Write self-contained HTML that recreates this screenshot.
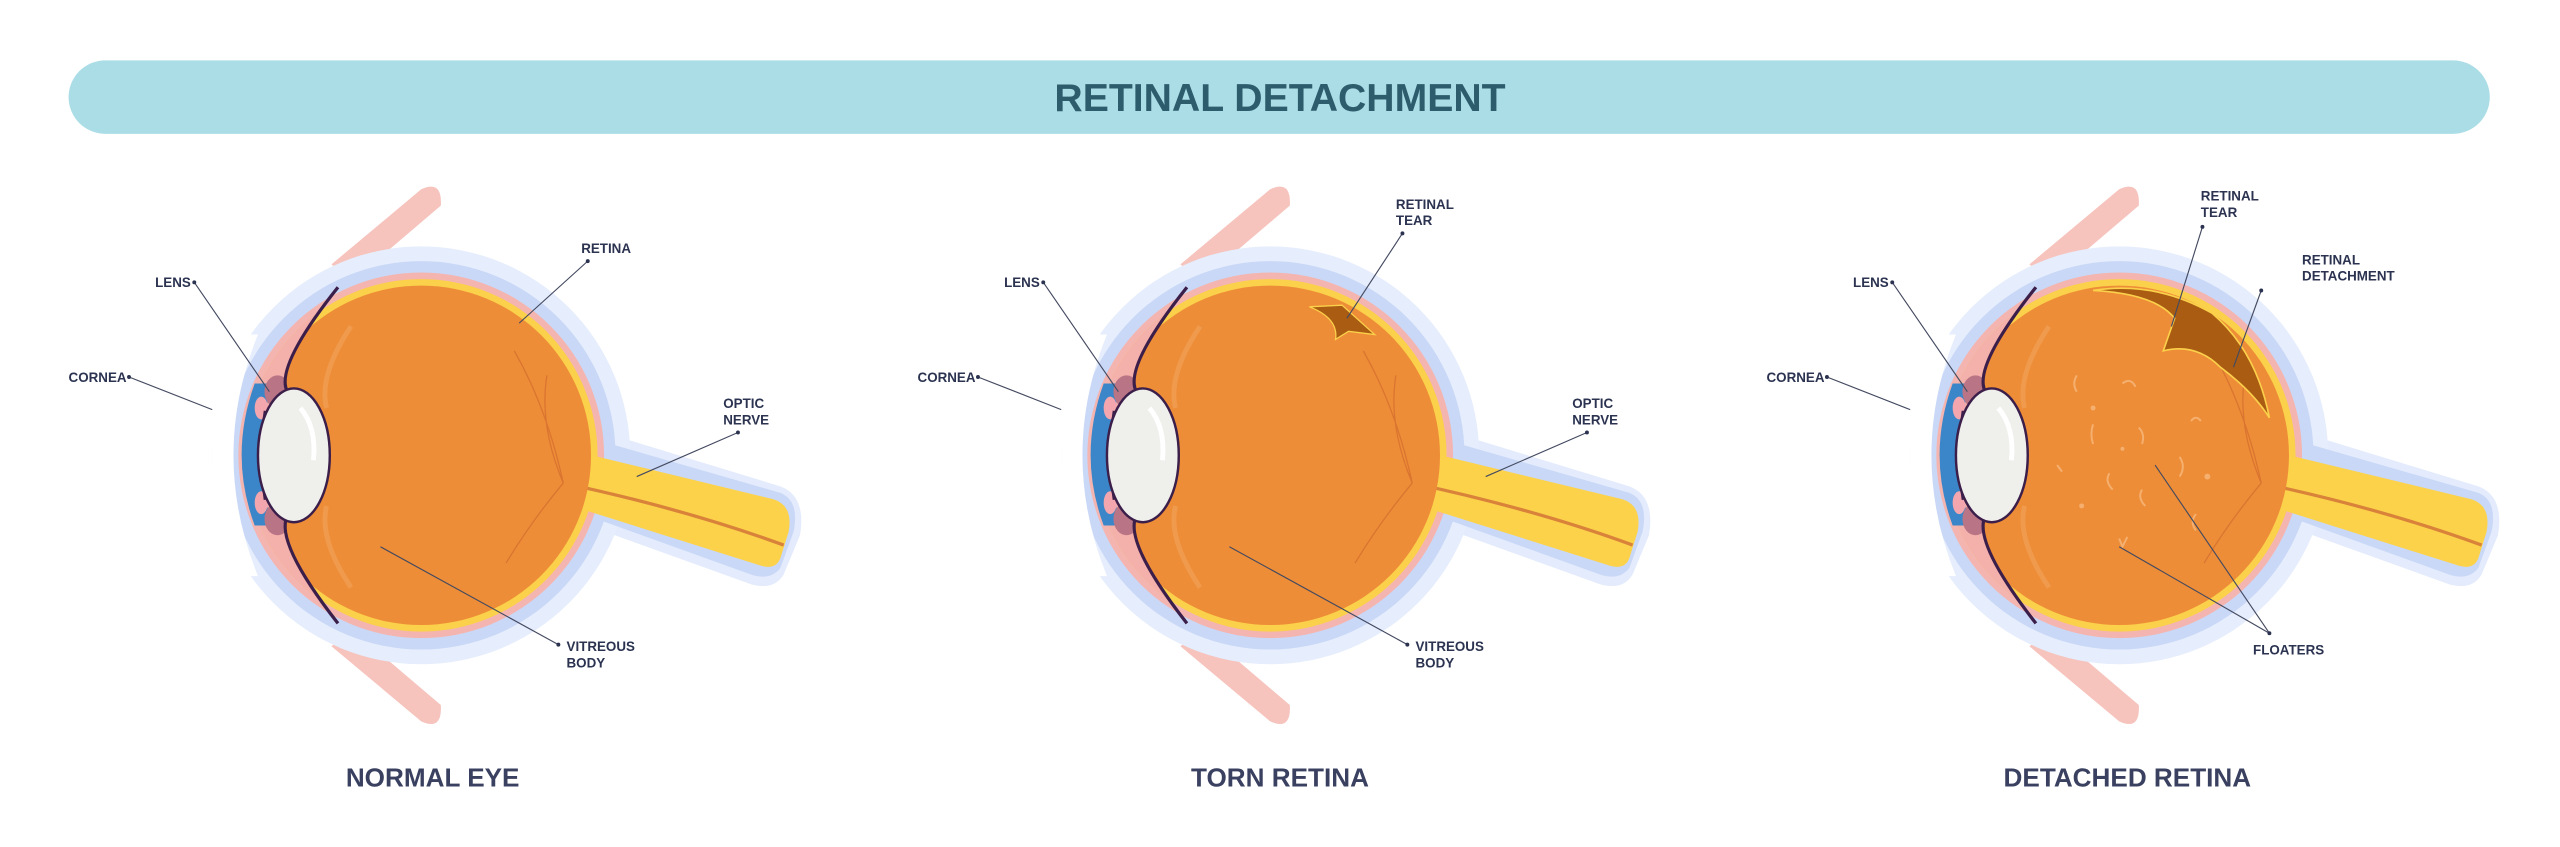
<!DOCTYPE html>
<html><head><meta charset="utf-8"><style>
html,body{margin:0;padding:0;background:#fff;}
svg{display:block;}
.lbl{font-family:"Liberation Sans",sans-serif;font-weight:bold;font-size:8.2px;fill:#2b3350;}
.cap{font-family:"Liberation Sans",sans-serif;font-weight:bold;font-size:16px;fill:#3a4060;}
</style></head><body>
<svg width="2560" height="847" viewBox="0 0 1568 519" preserveAspectRatio="none" xmlns="http://www.w3.org/2000/svg">
<defs>
<clipPath id="vc"><path d="M207,176 Q168,225 176,240 L200,278 L176,316 Q168,332 207,382 L420,420 L420,130 Z"/></clipPath>
<clipPath id="lc"><path d="M0,0 L215,0 L207,176 Q168,225 176,240 L176,316 Q168,332 207,382 L215,519 L0,519 Z"/></clipPath>
<g id="eye">
  <!-- muscles -->
  <path d="M203,162 L258,116 Q271,110 270,126 L216,172 Z" fill="#f6c3bd"/>
  <path d="M203,396 L258,442 Q271,448 270,432 L216,386 Z" fill="#f6c3bd"/>
  <!-- halos -->
  <path d="M360,262 L478,298 Q494,304 490,328 L480,352 Q474,362 460,358 L360,322 Z" fill="#e3ebfc"/>
  <circle cx="258" cy="279" r="128" fill="#e6edfc"/>
  <path d="M360,268 L478,302 Q490,307 486,326 L478,348 Q472,356 460,352 L360,316 Z" fill="#c9d8f7"/>
  <circle cx="258" cy="279" r="119" fill="#c9d8f7"/>
  <circle cx="258" cy="279" r="112" fill="#f4b5b0"/>
  <circle cx="258" cy="279" r="108" fill="#fbd04a"/>
  <circle cx="258" cy="279" r="108" fill="#f4b0aa" clip-path="url(#lc)"/>
  <!-- optic nerve -->
  <path d="M350,276 L474,306 Q486,310 483,326 L478,342 Q475,350 464,346 L350,310 Z" fill="#fcd24a"/>
  <path d="M345,296 Q420,312 480,334" stroke="#d9823a" stroke-width="2" fill="none"/>
  <!-- cornea -->
  <path d="M148,205 Q112,279 148,353 L158,353 Q128,279 158,205 Z" fill="#ffffff"/>
  <path d="M156,235 Q140,279 156,322 L166,322 Q156,279 166,235 Z" fill="#3b86c8"/>
  <!-- iris -->
  <ellipse cx="170" cy="240" rx="8" ry="10" fill="#b97585"/>
  <ellipse cx="170" cy="318" rx="8" ry="10" fill="#b97585"/>
  <ellipse cx="160" cy="250" rx="4" ry="7" fill="#f4a6ae"/>
  <ellipse cx="160" cy="308" rx="4" ry="7" fill="#f4a6ae"/>
  <path d="M164,252 Q160,279 164,306" stroke="#3b1f4a" stroke-width="5" fill="none"/>
  <!-- vitreous -->
  <circle cx="258" cy="279" r="104" fill="#ee8d37" clip-path="url(#vc)"/>
  <path d="M207,176 Q168,225 176,240" stroke="#3b1f4a" stroke-width="2" fill="none"/>
  <path d="M176,316 Q168,332 207,382" stroke="#3b1f4a" stroke-width="2" fill="none"/>
  <path d="M215,200 Q195,230 200,250" stroke="#f2a35c" stroke-width="3" fill="none" opacity=".6"/>
  <path d="M200,310 Q195,330 215,360" stroke="#f2a35c" stroke-width="3" fill="none" opacity=".6"/>
  <path d="M345,296 Q330,260 335,230 M345,296 Q325,320 310,345 M345,296 Q335,250 315,215" stroke="#d97530" stroke-width="0.8" fill="none"/>
  <!-- lens -->
  <ellipse cx="180" cy="279" rx="22" ry="41" fill="#efefec" stroke="#3b1f4a" stroke-width="1.5"/>
  <path d="M184,250 Q194,262 192,282" stroke="#fff" stroke-width="3" fill="none"/>
</g>
</defs>

<rect x="42" y="37" width="1483" height="45" rx="22.5" fill="#abdde6"/>
<text x="784" y="68" text-anchor="middle" font-family="Liberation Sans, sans-serif" font-weight="bold" font-size="24" fill="#2d5d6c">RETINAL DETACHMENT</text>

<use href="#eye"/>
<use href="#eye" x="520"/>
<use href="#eye" x="1040"/>

<path d="M802,188 Q820,195 818,208 L826,203 L842,205 L822,187 Z" fill="#a95c12" stroke="#fbd04a" stroke-width="0.8"/>
<path d="M1282,178 Q1320,180 1332,195 L1325,215 Q1345,210 1360,225 Q1380,240 1390,256 Q1382,215 1355,192 Q1320,172 1282,178 Z" fill="#a95c12" stroke="#fbd04a" stroke-width="1"/>
<g stroke="#f5b070" stroke-width="1.2" fill="none">
<path d="M1272,230 q-3,5 0,10"/><path d="M1300,235 q5,-4 8,2"/><path d="M1282,260 q-2,6 0,12"/><path d="M1310,262 q4,4 2,10"/><path d="M1342,258 q3,-4 6,0"/><path d="M1335,280 q4,6 0,12"/><path d="M1292,290 q-3,5 2,10"/><path d="M1312,300 q-3,5 2,10"/><path d="M1345,315 q-4,5 0,10"/><path d="M1298,330 l2,5 l3,-6"/><path d="M1260,285 l3,4"/>
</g>
<g fill="#f5b070"><circle cx="1282" cy="250" r="1.5"/><circle cx="1352" cy="292" r="1.8"/><circle cx="1275" cy="310" r="1.5"/><circle cx="1300" cy="275" r="1.2"/></g>

<g stroke="#444a60" stroke-width="0.7" fill="none">
<path d="M119,173 L165,240 M79,231 L130,251 M360,160 L318,198 M452,265 L390,292 M342,395 L233,335"/>
<path d="M639,173 L685,240 M599,231 L650,251 M859,143 L825,195 M972,265 L910,292 M862,395 L753,335"/>
<path d="M1159,173 L1205,240 M1119,231 L1170,251 M1349,139 L1330,200 M1385,178 L1368,225 M1390,388 L1320,285 M1390,388 L1298,335"/>
</g>
<g fill="#2b3350">
<circle cx="119" cy="173" r="1.2"/><circle cx="79" cy="231" r="1.2"/><circle cx="360" cy="160" r="1.2"/><circle cx="452" cy="265" r="1.2"/><circle cx="342" cy="395" r="1.2"/>
<circle cx="639" cy="173" r="1.2"/><circle cx="599" cy="231" r="1.2"/><circle cx="859" cy="143" r="1.2"/><circle cx="972" cy="265" r="1.2"/><circle cx="862" cy="395" r="1.2"/>
<circle cx="1159" cy="173" r="1.2"/><circle cx="1119" cy="231" r="1.2"/><circle cx="1349" cy="139" r="1.2"/><circle cx="1385" cy="178" r="1.2"/><circle cx="1390" cy="388" r="1.2"/>
</g>

<text class="lbl" x="95" y="176">LENS</text>
<text class="lbl" x="42" y="234">CORNEA</text>
<text class="lbl" x="356" y="155">RETINA</text>
<text class="lbl" x="443" y="250">OPTIC</text><text class="lbl" x="443" y="260">NERVE</text>
<text class="lbl" x="347" y="399">VITREOUS</text><text class="lbl" x="347" y="409">BODY</text>

<text class="lbl" x="615" y="176">LENS</text>
<text class="lbl" x="562" y="234">CORNEA</text>
<text class="lbl" x="855" y="128">RETINAL</text><text class="lbl" x="855" y="138">TEAR</text>
<text class="lbl" x="963" y="250">OPTIC</text><text class="lbl" x="963" y="260">NERVE</text>
<text class="lbl" x="867" y="399">VITREOUS</text><text class="lbl" x="867" y="409">BODY</text>

<text class="lbl" x="1135" y="176">LENS</text>
<text class="lbl" x="1082" y="234">CORNEA</text>
<text class="lbl" x="1348" y="123">RETINAL</text><text class="lbl" x="1348" y="133">TEAR</text>
<text class="lbl" x="1410" y="162">RETINAL</text><text class="lbl" x="1410" y="172">DETACHMENT</text>
<text class="lbl" x="1380" y="401">FLOATERS</text>

<text class="cap" x="265" y="482" text-anchor="middle">NORMAL EYE</text>
<text class="cap" x="784" y="482" text-anchor="middle">TORN RETINA</text>
<text class="cap" x="1303" y="482" text-anchor="middle">DETACHED RETINA</text>
</svg>
</body></html>
